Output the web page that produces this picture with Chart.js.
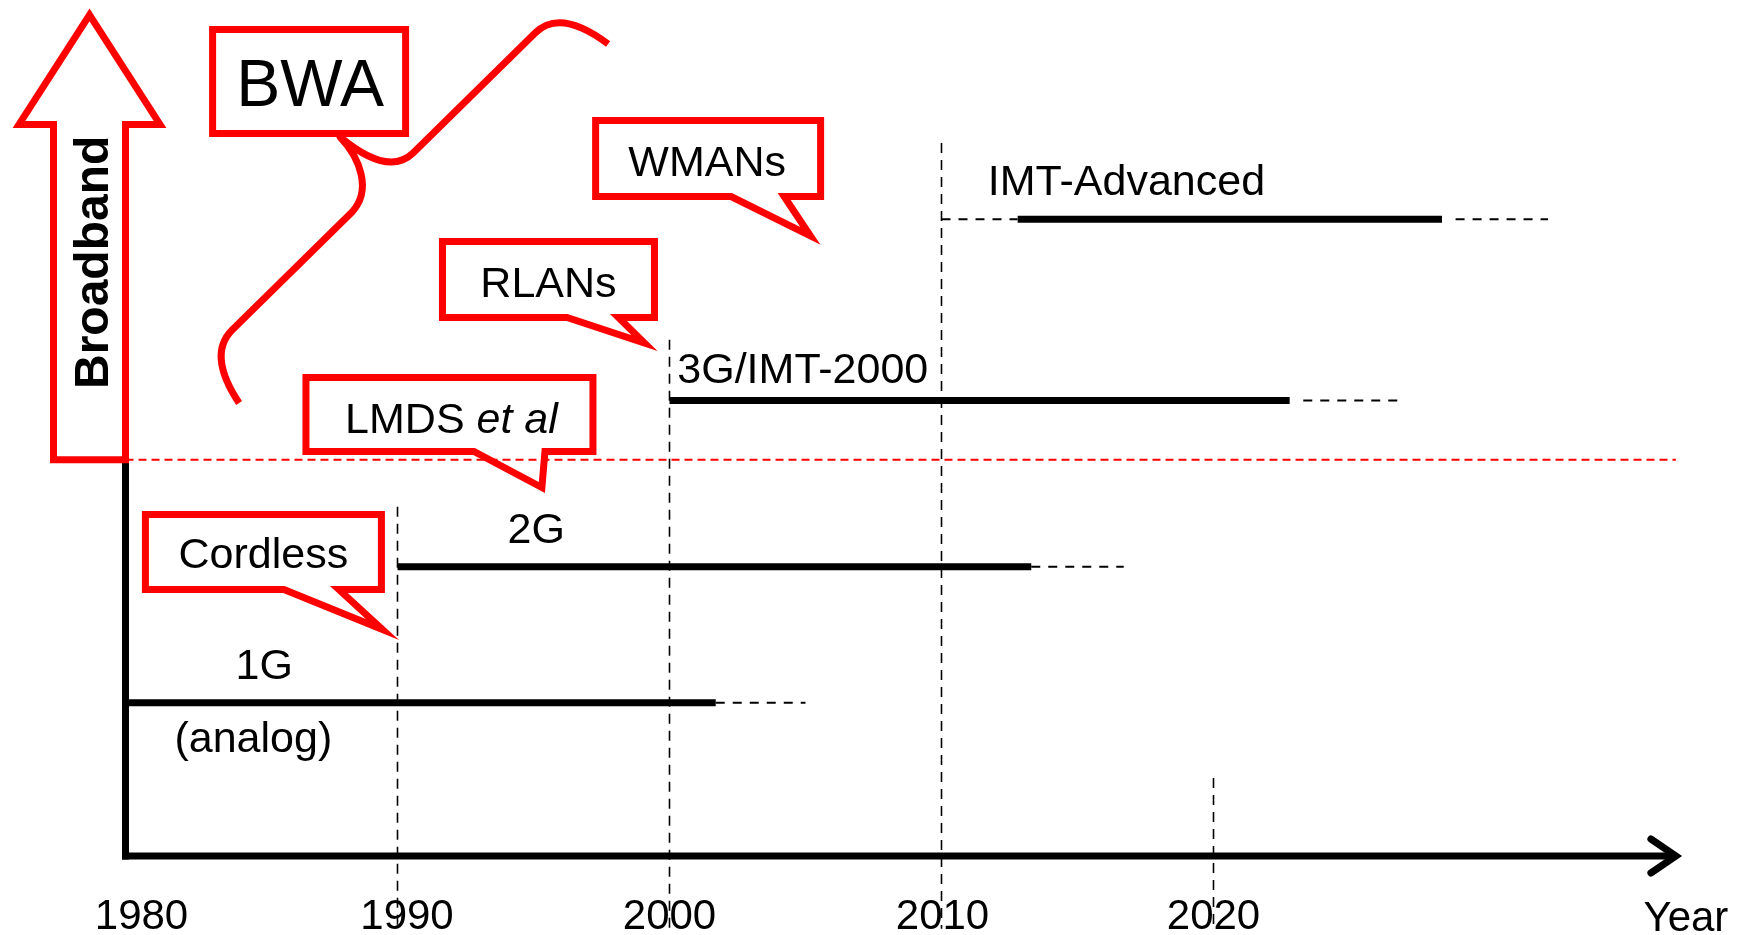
<!DOCTYPE html>
<html>
<head>
<meta charset="utf-8">
<script src="https://cdn.jsdelivr.net/npm/chart.js@4/dist/chart.umd.min.js"></script>
<style>
html,body{margin:0;padding:0;background:#ffffff;}
canvas{display:block;}
</style>
</head>
<body>
<canvas id="c" width="1747" height="935"></canvas>
<script>
// ---------------- data ----------------
const generations = ['1G', '2G', '3G/IMT-2000', 'IMT-Advanced'];
const generationSubLabels = ['(analog)', '', '', ''];
const generationLevel = [17.9, 33.8, 53.2, 74.4];
const solidStart = [1980, 1990, 2000, 2012.8];
const solidEnd = [2001.7, 2013.3, 2022.8, 2028.4];
const outlookStart = [2001.7, 2013.3, 2023.3, 2028.9];
const outlookEnd = [2005.0, 2016.7, 2026.8, 2032.3];
const leadInStart = [null, null, null, 2010];
const leadInEnd = [null, null, null, 2012.8];
const labelYear = [1985.1, 1995.1, 2004.9, 2016.8];
const subLabelYear = [1984.7, null, null, null];

const tickYears = [1980, 1990, 2000, 2010, 2020];
const tickLabels = ['1980', '1990', '2000', '2010', '2020'];
const axisTitle = 'Year';
const guideYears = [1990, 2000, 2010, 2020];
const guideTopLevel = [40.8, 60.3, 83.3, 9.1];
const guideBottomLevel = -8.5;
const broadbandLabel = 'Broadband';
const broadbandLevel = 46.3;
const broadbandEndYear = 2037;
const axisEndYear = 2037;
const axisTopLevel = 86.8;

const services = ['BWA', 'WMANs', 'RLANs', 'LMDS', 'Cordless'];
const serviceItalic = ['', '', '', 'et al', ''];
const serviceTipYear = [null, 2005.55, 1999.55, 1995.42, 1990.05];
const serviceTipLevel = [null, 71.4, 59.0, 42.4, 25.25];

// ---------------- layout / style ----------------
const FONT = "'Liberation Sans', Arial, Helvetica, sans-serif";
const RED = '#ff0000';
const STROKE = 7;
const calloutLayout = [
  {cx: 1986.75, cy: 90.48, w: 193, h: 104, baseL: null, baseR: null, size: 66, dy: 24.5, dx: 1},
  {cx: 2001.42, cy: 81.48, w: 225, h: 76, baseL: 23, baseR: 76, size: 43, dy: 17.5, dx: -1},
  {cx: 1995.55, cy: 67.35, w: 212, h: 76, baseL: 18.5, baseR: 70, size: 43, dy: 17.5, dx: 0},
  {cx: 1991.91, cy: 51.58, w: 287, h: 74, baseL: 24.5, baseR: 95.5, size: 43, dy: 18.5, dx: 2},
  {cx: 1985.07, cy: 35.51, w: 236, h: 75, baseL: 20.5, baseR: 75.5, size: 43, dy: 16, dx: 0}
];
const genLabelSize = 43;
const genLabelDy = [-24, -24, -17.5, -24];
const subLabelDy = 49;
const tickLabelShift = [16, 9.5, 0, 1, 0];
// brace path relative to the BWA box centre (px)
const bracePath = [
  ['M', 299, -37.5],
  ['Q', 251, -73.5, 226, -48.5],
  ['L', 104, 71.5],
  ['Q', 79, 95.5, 31, 55.5],
  ['C', 51, 76.5, 63, 108.5, 43, 130.5],
  ['L', -77, 248.5],
  ['Q', -102, 273.5, -70, 321.5]
];
const arrowLayout = {tipLevel: 98.25, headLevel: 85.46, shaftW: 72, headHalf: 70.5};

// ---------------- datasets ----------------
const datasets = [];
function seg(label, x1, x2, y1, y2, style) {
  datasets.push(Object.assign({
    label: label,
    data: [{x: x1, y: y1}, {x: x2, y: y2}],
    borderColor: '#000',
    borderWidth: 7,
    borderCapStyle: 'butt',
    pointRadius: 0,
    pointHoverRadius: 0,
    fill: false,
    tension: 0
  }, style || {}));
}
generations.forEach((g, i) => {
  seg(g, solidStart[i], solidEnd[i], generationLevel[i], generationLevel[i]);
  seg(g + ' outlook', outlookStart[i], outlookEnd[i], generationLevel[i], generationLevel[i],
      {borderWidth: 2, borderDash: [9, 8]});
  if (leadInStart[i] !== null) {
    seg(g + ' lead-in', leadInStart[i], leadInEnd[i], generationLevel[i], generationLevel[i],
        {borderWidth: 2, borderDash: [9, 8]});
  }
});
guideYears.forEach((yr, i) => {
  seg('guide ' + yr, yr, yr, guideTopLevel[i], guideBottomLevel,
      {borderWidth: 1.6, borderDash: [10, 7], clip: false});
});
seg('Broadband threshold', 1980, broadbandEndYear, broadbandLevel, broadbandLevel,
    {borderColor: RED, borderWidth: 2, borderDash: [8, 5]});

// pull a miter-joined tip back so that its outer point lands on the target
function centreTip(tip, p1, p2, hw) {
  let c = {x: tip.x, y: tip.y};
  for (let k = 0; k < 4; k++) {
    let ax = p1.x - c.x, ay = p1.y - c.y, bx = p2.x - c.x, by = p2.y - c.y;
    const la = Math.hypot(ax, ay), lb = Math.hypot(bx, by);
    ax /= la; ay /= la; bx /= lb; by /= lb;
    const half = Math.acos(Math.max(-1, Math.min(1, ax * bx + ay * by))) / 2;
    const d = hw / Math.sin(half);
    let sx = ax + bx, sy = ay + by;
    const ls = Math.hypot(sx, sy);
    sx /= ls; sy /= ls;
    c = {x: tip.x + sx * d, y: tip.y + sy * d};
  }
  return c;
}

// ---------------- decorations ----------------
const deco = {
  id: 'deco',
  beforeDraw(chart) {
    try {
      const xs = chart.scales.x;
      const items = xs.getLabelItems(chart.chartArea);
      items.forEach(it => {
        const k = tickLabels.indexOf(String(it.label));
        if (k >= 0 && it.options && it.options.translation) it.options.translation[0] += tickLabelShift[k];
      });
    } catch (e) { /* keep default placement */ }
  },
  beforeDatasetsDraw(chart) {
    const {ctx, scales: {x, y}} = chart;
    const X0 = x.getPixelForValue(1980), Y0 = y.getPixelForValue(0);
    const XE = x.getPixelForValue(axisEndYear);
    ctx.save();
    // axes
    ctx.strokeStyle = '#000';
    ctx.lineWidth = 7;
    ctx.lineCap = 'butt';
    ctx.beginPath();
    ctx.moveTo(X0, y.getPixelForValue(axisTopLevel));
    ctx.lineTo(X0, Y0 + 3.5);
    ctx.stroke();
    ctx.beginPath();
    ctx.moveTo(X0 - 3.5, Y0);
    ctx.lineTo(XE - 4, Y0);
    ctx.stroke();
    ctx.lineCap = 'round';
    ctx.lineJoin = 'miter';
    ctx.beginPath();
    ctx.moveTo(XE - 25, Y0 - 17);
    ctx.lineTo(XE, Y0);
    ctx.lineTo(XE - 25, Y0 + 17);
    ctx.stroke();
    ctx.fillStyle = '#000';
    ctx.font = '42px ' + FONT;
    ctx.textAlign = 'center';
    ctx.textBaseline = 'alphabetic';
    ctx.fillText(axisTitle, XE + 10, Y0 + 75);

    ctx.lineJoin = 'miter';
    ctx.miterLimit = 20;
    ctx.lineCap = 'butt';

    // Broadband arrow
    const A = arrowLayout;
    const cx = X0 - A.shaftW / 2;
    const tipY = y.getPixelForValue(A.tipLevel);
    const headY = y.getPixelForValue(A.headLevel);
    const botY = y.getPixelForValue(broadbandLevel);
    ctx.beginPath();
    ctx.moveTo(cx, tipY);
    ctx.lineTo(cx + A.headHalf, headY);
    ctx.lineTo(X0, headY);
    ctx.lineTo(X0, botY);
    ctx.lineTo(X0 - A.shaftW, botY);
    ctx.lineTo(X0 - A.shaftW, headY);
    ctx.lineTo(cx - A.headHalf, headY);
    ctx.closePath();
    ctx.fillStyle = '#fff';
    ctx.fill();
    ctx.strokeStyle = RED;
    ctx.lineWidth = STROKE;
    ctx.stroke();
    ctx.save();
    ctx.translate(cx + 18, (tipY + botY) / 2 + 25);
    ctx.rotate(-Math.PI / 2);
    ctx.fillStyle = '#000';
    ctx.font = 'bold 48px ' + FONT;
    ctx.textAlign = 'center';
    ctx.textBaseline = 'alphabetic';
    ctx.fillText(broadbandLabel, 0, 0);
    ctx.restore();

    // callouts
    services.forEach((s, i) => {
      const L = calloutLayout[i];
      const bx = x.getPixelForValue(L.cx), by = y.getPixelForValue(L.cy);
      const l = bx - L.w / 2, r = bx + L.w / 2, t = by - L.h / 2, b = by + L.h / 2;
      ctx.beginPath();
      ctx.moveTo(l, t);
      ctx.lineTo(r, t);
      ctx.lineTo(r, b);
      if (serviceTipYear[i] !== null) {
        const pR = {x: bx + L.baseR, y: b}, pL = {x: bx + L.baseL, y: b};
        const tip = centreTip({x: x.getPixelForValue(serviceTipYear[i]), y: y.getPixelForValue(serviceTipLevel[i])},
                              pL, pR, STROKE / 2);
        ctx.lineTo(pR.x, pR.y);
        ctx.lineTo(tip.x, tip.y);
        ctx.lineTo(pL.x, pL.y);
      }
      ctx.lineTo(l, b);
      ctx.closePath();
      ctx.fillStyle = '#fff';
      ctx.fill();
      ctx.strokeStyle = RED;
      ctx.lineWidth = STROKE;
      ctx.stroke();
      ctx.fillStyle = '#000';
      ctx.textBaseline = 'alphabetic';
      const fN = L.size + 'px ' + FONT, fI = 'italic ' + L.size + 'px ' + FONT;
      if (serviceItalic[i]) {
        ctx.font = fN;
        const w1 = ctx.measureText(s + ' ').width;
        ctx.font = fI;
        const w2 = ctx.measureText(serviceItalic[i]).width;
        const sx = bx + L.dx - (w1 + w2) / 2;
        ctx.textAlign = 'left';
        ctx.font = fN;
        ctx.fillText(s + ' ', sx, by + L.dy);
        ctx.font = fI;
        ctx.fillText(serviceItalic[i], sx + w1, by + L.dy);
      } else {
        ctx.font = fN;
        ctx.textAlign = 'center';
        ctx.fillText(s, bx + L.dx, by + L.dy);
      }
    });

    // BWA brace
    const B = calloutLayout[0];
    const ox = x.getPixelForValue(B.cx), oy = y.getPixelForValue(B.cy);
    ctx.beginPath();
    bracePath.forEach(p => {
      const c = p.slice(1).map((v, k) => v + (k % 2 === 0 ? ox : oy));
      if (p[0] === 'M') ctx.moveTo(c[0], c[1]);
      else if (p[0] === 'L') ctx.lineTo(c[0], c[1]);
      else if (p[0] === 'Q') ctx.quadraticCurveTo(c[0], c[1], c[2], c[3]);
      else ctx.bezierCurveTo(c[0], c[1], c[2], c[3], c[4], c[5]);
    });
    ctx.strokeStyle = RED;
    ctx.lineWidth = STROKE;
    ctx.lineCap = 'butt';
    ctx.lineJoin = 'round';
    ctx.stroke();
    ctx.restore();
  },
  afterDatasetsDraw(chart) {
    const {ctx, scales: {x, y}} = chart;
    ctx.save();
    ctx.fillStyle = '#000';
    ctx.font = genLabelSize + 'px ' + FONT;
    ctx.textAlign = 'center';
    ctx.textBaseline = 'alphabetic';
    generations.forEach((g, i) => {
      const ly = y.getPixelForValue(generationLevel[i]);
      ctx.fillText(g, x.getPixelForValue(labelYear[i]), ly + genLabelDy[i]);
      if (generationSubLabels[i]) {
        ctx.fillText(generationSubLabels[i], x.getPixelForValue(subLabelYear[i]), ly + subLabelDy);
      }
    });
    ctx.restore();
  }
};

new Chart(document.getElementById('c'), {
  type: 'line',
  data: {datasets: datasets},
  options: {
    responsive: false,
    animation: false,
    devicePixelRatio: 1,
    layout: {padding: {left: 125.5, right: 43.9, top: 0, bottom: 0}},
    plugins: {legend: {display: false}, tooltip: {enabled: false}},
    events: [],
    scales: {
      x: {
        type: 'linear',
        min: 1980,
        max: 2038,
        position: 'bottom',
        grid: {display: false, drawTicks: false},
        border: {display: false},
        afterBuildTicks: s => { s.ticks = tickYears.map(v => ({value: v})); },
        afterFit: s => { s.height = 79; },
        ticks: {
          autoSkip: false,
          maxRotation: 0,
          padding: 36,
          color: '#000',
          font: {family: FONT, size: 42},
          callback: v => { const k = tickYears.indexOf(v); return k >= 0 ? tickLabels[k] : ''; }
        }
      },
      y: {type: 'linear', min: 0, max: 100, display: false}
    }
  },
  plugins: [deco]
});
</script>
</body>
</html>
